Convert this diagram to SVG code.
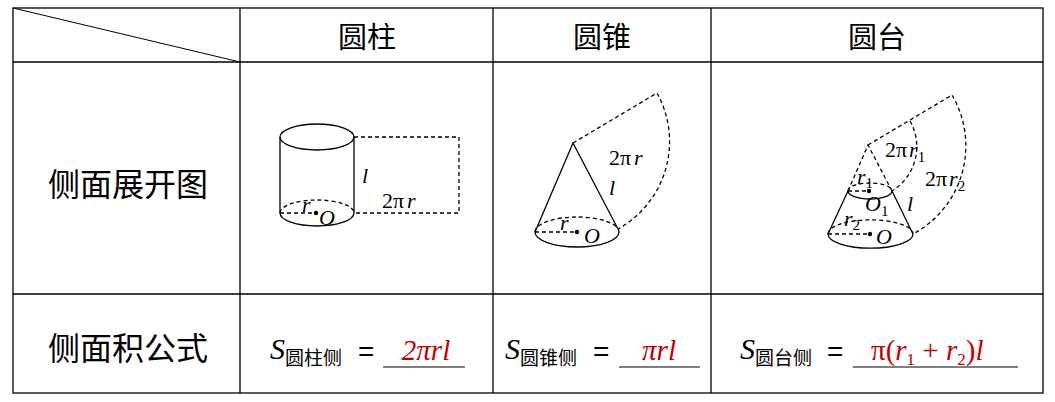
<svg xmlns="http://www.w3.org/2000/svg" width="1055" height="402" viewBox="0 0 1055 402">
<style>
.g{stroke:#000;stroke-width:1.3;fill:none}
.d{stroke:#000;stroke-width:1.3;fill:none;stroke-dasharray:4 3}
.h{font-family:"Noto Sans CJK SC",sans-serif;font-size:29px;fill:#000;text-anchor:middle}
.k{font-size:32px}
.m{font-family:"Liberation Serif",serif;font-style:italic;font-size:22px;fill:#000}
.n{font-family:"Liberation Serif",serif;font-size:22px;fill:#000}
.b{font-size:15px;font-style:normal;fill:#000}
.s{font-family:"Liberation Serif",serif;font-style:italic;font-size:30px}
.c{font-family:"Noto Sans CJK SC",sans-serif;font-size:19px}
.e{font-family:"Liberation Sans",sans-serif;font-size:28px}
.r{font-family:"Liberation Serif",serif;font-style:italic;font-size:29px;fill:#c00000}
.u{stroke:#000;stroke-width:1.2}
</style>
<rect width="1055" height="402" fill="#fff"/>
<g id="table" class="g">
<rect x="13" y="8" width="1030" height="385"/>
<line x1="13" y1="62" x2="1043" y2="62"/>
<line x1="13" y1="294" x2="1043" y2="294"/>
<line x1="240" y1="8" x2="240" y2="393"/>
<line x1="493" y1="8" x2="493" y2="393"/>
<line x1="711" y1="8" x2="711" y2="393"/>
<line x1="13" y1="8" x2="240" y2="62" stroke-width="1"/>
</g>
<g id="headers">
<text class="h" x="367" y="48">圆柱</text>
<text class="h" x="602" y="48">圆锥</text>
<text class="h" x="877" y="48">圆台</text>
<text class="h k" x="128" y="196">侧面展开图</text>
<text class="h k" x="128" y="360">侧面积公式</text>
</g>
<g id="cylinder">
<ellipse class="g" cx="317" cy="137" rx="37" ry="13"/>
<line class="g" x1="280" y1="137" x2="280" y2="213"/>
<line class="g" x1="354" y1="137" x2="354" y2="213"/>
<path class="g" d="M280 213 A37 13 0 0 0 354 213"/>
<path class="d" d="M280 213 A37 13 0 0 1 354 213"/>
<line class="d" x1="280" y1="213" x2="316" y2="213"/>
<circle cx="316" cy="213" r="2.2"/>
<path class="d" d="M354 137 H459 V213 H354"/>
<text class="m" x="362" y="183">l</text>
<text class="n" x="382" y="208">2π<tspan font-style="italic" dx="3">r</tspan></text>
<text class="m" x="302" y="212">r</text>
<text class="m" x="319" y="225">O</text>
</g>
<g id="cone">
<path class="g" d="M535 232 L573 143 L618 229"/>
<path class="g" d="M535 232 A42 15 0 0 0 619 232"/>
<path class="d" d="M535 232 A42 15 0 0 1 619 232"/>
<line class="d" x1="535" y1="232" x2="577" y2="232"/>
<circle cx="577" cy="232" r="2.2"/>
<path class="d" d="M573 143 L657 93 A100 100 0 0 1 618 229"/>
<text class="n" x="609" y="165">2π<tspan font-style="italic" dx="3">r</tspan></text>
<text class="m" x="609" y="195">l</text>
<text class="m" x="560" y="230">r</text>
<text class="m" x="584" y="243">O</text>
</g>
<g id="frustum">
<path class="g" d="M828 234 L848 191 M892 191 L913 234"/>
<path class="g" d="M828 234 A42 14 0 0 0 913 234"/>
<path class="d" d="M828 234 A42 14 0 0 1 913 234"/>
<line class="d" x1="828" y1="234" x2="870" y2="234"/>
<circle cx="870" cy="234" r="2.2"/>
<path class="g" d="M848 191 A22 8 0 0 0 892 191"/>
<path class="d" d="M848 191 A22 8 0 0 1 892 191"/>
<line class="d" x1="848" y1="191" x2="869" y2="191"/>
<circle cx="869" cy="191" r="2.2"/>
<path class="d" d="M848 191 L868 145 L892 191"/>
<path class="d" d="M868 145 L952 95 A100 100 0 0 1 913 234"/>
<path class="d" d="M910 121 A52 52 0 0 1 892 191"/>
<text class="n" x="885" y="157">2π<tspan font-style="italic" dx="2">r</tspan><tspan class="b" dy="5">1</tspan></text>
<text class="n" x="925" y="186">2π<tspan font-style="italic" dx="2">r</tspan><tspan class="b" dy="5">2</tspan></text>
<text class="m" x="857" y="184">r<tspan class="b" dy="4">1</tspan></text>
<text class="m" x="865" y="211">O<tspan class="b" dy="5">1</tspan></text>
<text class="m" x="907" y="211">l</text>
<text class="m" x="844" y="226">r<tspan class="b" dy="4">2</tspan></text>
<text class="m" x="876" y="244">O</text>
</g>
<g id="formulas">
<text x="270" y="359"><tspan class="s">S</tspan><tspan class="c" dy="6">圆柱侧</tspan></text>
<text class="e" x="358" y="361">=</text>
<line class="u" x1="383" y1="367" x2="465" y2="367"/>
<text class="r" x="426" y="360" text-anchor="middle">2πrl</text>
<text x="505" y="359"><tspan class="s">S</tspan><tspan class="c" dy="6">圆锥侧</tspan></text>
<text class="e" x="593" y="361">=</text>
<line class="u" x1="619" y1="367" x2="700" y2="367"/>
<text class="r" x="659" y="360" text-anchor="middle">πrl</text>
<text x="740" y="359"><tspan class="s">S</tspan><tspan class="c" dy="6">圆台侧</tspan></text>
<text class="e" x="827" y="361">=</text>
<line class="u" x1="853" y1="367" x2="1018" y2="367"/>
<text x="871" y="360" fill="#c00000" font-family="Liberation Serif,serif" font-size="29">π(<tspan font-style="italic">r</tspan><tspan font-size="17" dy="5">1</tspan><tspan dy="-5"> + </tspan><tspan font-style="italic">r</tspan><tspan font-size="17" dy="5">2</tspan><tspan dy="-5">)</tspan><tspan font-style="italic">l</tspan></text>
</g>
</svg>
